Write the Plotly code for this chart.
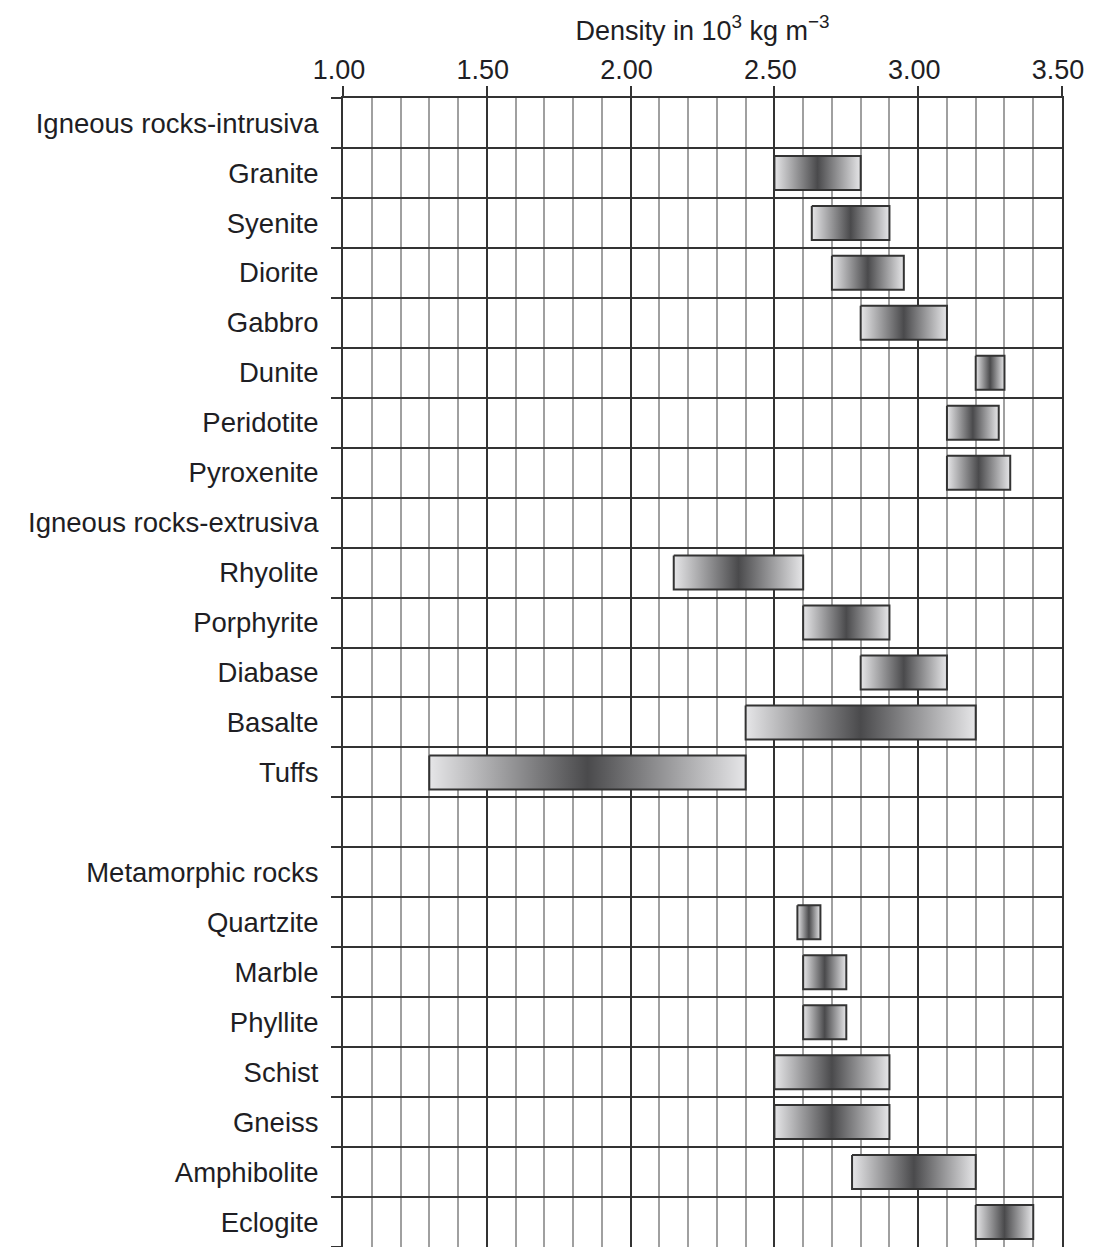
import plotly.graph_objects as go

# ---- data ----
rock_names = [
    "Igneous rocks-intrusiva", "Granite", "Syenite", "Diorite", "Gabbro",
    "Dunite", "Peridotite", "Pyroxenite", "Igneous rocks-extrusiva",
    "Rhyolite", "Porphyrite", "Diabase", "Basalte", "Tuffs", "",
    "Metamorphic rocks", "Quartzite", "Marble", "Phyllite", "Schist",
    "Gneiss", "Amphibolite", "Eclogite",
]
density_low = [
    None, 2.50, 2.63, 2.70, 2.80, 3.20, 3.10, 3.10, None,
    2.15, 2.60, 2.80, 2.40, 1.30, None,
    None, 2.58, 2.60, 2.60, 2.50, 2.50, 2.77, 3.20,
]
density_high = [
    None, 2.80, 2.90, 2.95, 3.10, 3.30, 3.28, 3.32, None,
    2.60, 2.90, 3.10, 3.20, 2.40, None,
    None, 2.66, 2.75, 2.75, 2.90, 2.90, 3.20, 3.40,
]
x_tick_values = [1.00, 1.50, 2.00, 2.50, 3.00, 3.50]

# ---- style ----
DARK = "#333333"
MINOR = "#a0a0a0"
TEXT = "#1e1e24"
FONT = "Liberation Sans, Arial, sans-serif"
HALF_H = 0.34
gradient = [[0.0, "#e6e6e8"], [0.5, "#4a4a4c"], [1.0, "#e6e6e8"]]

n = len(rock_names)
row_centers = [i + 0.5 for i in range(n)]

fig = go.Figure()
for i, (lo, hi) in enumerate(zip(density_low, density_high)):
    if lo is None or hi is None:
        continue
    yc = row_centers[i]
    fig.add_trace(go.Scatter(
        x=[lo, hi, hi, lo, lo],
        y=[yc - HALF_H, yc - HALF_H, yc + HALF_H, yc + HALF_H, yc - HALF_H],
        mode="lines",
        fill="toself",
        fillgradient=dict(type="horizontal", colorscale=gradient),
        line=dict(color=DARK, width=2),
        hoverinfo="skip",
        showlegend=False,
    ))

# the page body adds an 8 px margin, so the figure is sized to compensate
fig.update_layout(
    width=1085, height=1239,
    margin=dict(l=335, r=31, t=90, b=0),
    paper_bgcolor="white", plot_bgcolor="white",
    font=dict(family=FONT, size=27.5, color=TEXT),
    showlegend=False,
)

fig.update_xaxes(
    side="top",
    range=[1.0, 3.5],
    tickmode="array",
    tickvals=x_tick_values,
    ticktext=[f"{v:.2f}" for v in x_tick_values],
    ticks="outside", ticklen=10, tickwidth=2, tickcolor=DARK,
    ticklabelstandoff=-4,
    ticklabelshift=-4,
    ticklabeloverflow="allow",
    tickfont=dict(size=27, color=TEXT),
    showgrid=True, gridcolor=DARK, gridwidth=2,
    minor=dict(dtick=0.1, tick0=1.0, showgrid=True, gridcolor=MINOR, gridwidth=2, ticks=""),
    showline=True, linecolor=DARK, linewidth=2,
    zeroline=False,
    title=dict(text="Density in 10<sup>3</sup> kg m<sup>\u22123</sup>",
               font=dict(size=27, color=TEXT), standoff=7),
)

fig.update_yaxes(
    range=[n, 0],
    tickmode="array",
    tickvals=row_centers,
    ticktext=rock_names,
    ticks="",
    ticklabelstandoff=17,
    tickfont=dict(size=27.5, color=TEXT),
    showgrid=False,
    minor=dict(tickmode="linear", tick0=0, dtick=1, showgrid=True, gridcolor=DARK,
               gridwidth=2, ticks="outside", ticklen=10, tickwidth=2, tickcolor=DARK),
    showline=True, linecolor=DARK, linewidth=2, mirror=True,
    zeroline=False,
)

fig.write_html("out.html")
